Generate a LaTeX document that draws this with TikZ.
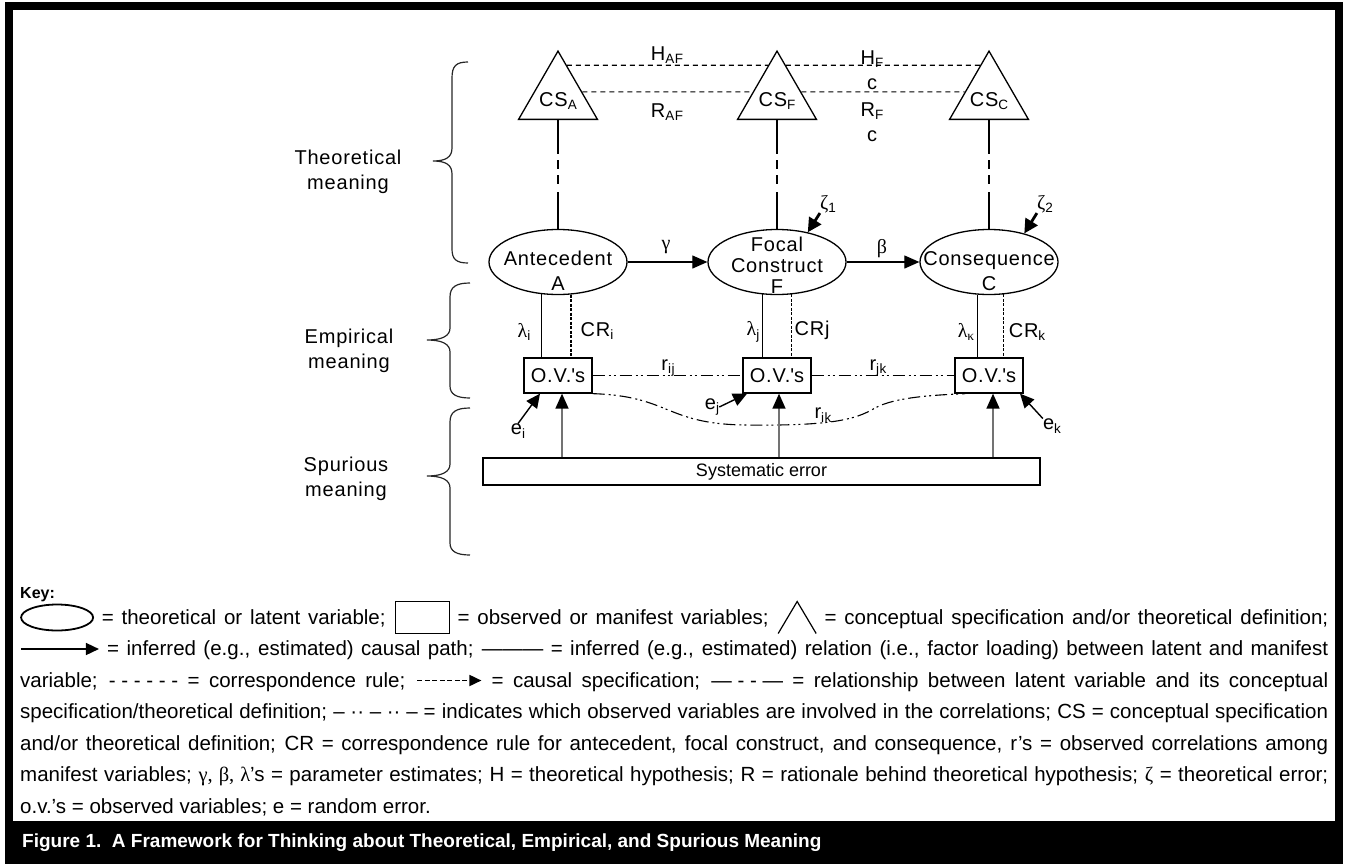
\documentclass[tikz,border=0pt]{standalone}
\usepackage{fontspec}
\setmainfont{Liberation Sans}
\newfontfamily\lblfont[LetterSpace=4]{Liberation Sans}
\newfontfamily\grk{Liberation Serif}
\usetikzlibrary{arrows.meta,shapes.geometric,calc}

% small lowered index used in the diagram labels
\newcommand\sbs[1]{\raisebox{-0.35ex}{\fontsize{13.5}{13.5}\selectfont #1}}
% inline symbols of the key
\newcommand\kEll{\tikz[baseline=-6.5pt]\draw[line width=1.8pt] (0,0) ellipse (36pt and 13pt);}
\newcommand\kBox{\tikz[baseline=-6.5pt]\draw[line width=1.2pt] (-27pt,-16pt) rectangle (27pt,16pt);}
\newcommand\kTri{\tikz[baseline=-6.5pt]\draw[line width=1.2pt] (-19pt,-16pt) -- (0pt,16pt) -- (19pt,-16pt);}
\newcommand\kArrow{\tikz[baseline=-6.5pt]\draw[line width=1.5pt,-{Triangle[length=13pt,width=12pt]}] (0pt,0pt) -- (78pt,0pt);}
\newcommand\kDashArrow{\tikz[baseline=-6.5pt]\draw[line width=1.8pt,dash pattern=on 5pt off 2.5pt,-{Triangle[length=12pt,width=11pt]}] (0pt,0pt) -- (64pt,0pt);}

\begin{document}
\begin{tikzpicture}[x=1pt,y=-1pt,
  lbl/.style={font=\lblfont\fontsize{20}{25}\selectfont, inner sep=0pt, align=center},
  latent/.style={ellipse, draw, line width=1.3pt, minimum width=138pt, minimum height=65pt, inner sep=0pt},
  obs/.style={rectangle, draw, line width=1.3pt, minimum width=68pt, minimum height=35pt, inner sep=0pt,
              font=\lblfont\fontsize{20}{25}\selectfont},
  concept/.style={regular polygon, regular polygon sides=3, draw, line width=1.3pt, minimum size=91pt, inner sep=0pt},
  hdash/.style={line width=1.2pt, dash pattern=on 5pt off 4pt},
  linkcs/.style={line width=1.3pt, dash pattern=on 34pt off 6pt on 9pt off 6pt on 9pt off 8pt on 80pt},
  loading/.style={line width=1.4pt},
  corr/.style={line width=1.8pt, dash pattern=on 3pt off 1.5pt},
  ddot/.style={line width=1.1pt, dash pattern=on 12pt off 4pt on 2pt off 3pt on 2pt off 4pt},
  arr/.style={line width=1.1pt, -{Triangle[length=15pt,width=13pt]}},
  earr/.style={line width=1.4pt, -{Triangle[length=14pt,width=13pt]}},
  zarr/.style={line width=2.8pt, -{Triangle[length=14pt,width=14pt]}},
  sarr/.style={line width=1.5pt, draw=black!55, -{Triangle[length=15pt,width=13pt,black]}},
  brace/.style={line width=1.2pt, black!85},
  keyl/.style={anchor=base west, inner sep=0pt, font=\fontsize{20.5}{20.5}\selectfont},
]
\useasboundingbox (0,0) rectangle (1348,867);

% frame and caption bar
\draw[line width=8pt] (9,840) |- (1339,6) -- (1339,840);
\fill (5,821) rectangle (1343,864);

% conceptual specifications
\node[concept] (csA) at (558,96.6) {};
\node[concept] (csF) at (777,96.6) {};
\node[concept] (csC) at (989,96.6) {};
\node[lbl] (csAt) at (558,101) {CS\sbs{A}};
\node[lbl] (csFt) at (777,101) {CS\sbs{F}};
\node[lbl] (csCt) at (989,101) {CS\sbs{C}};

% hypotheses and rationales
\draw[hdash] (csA.74) -- (csF.106);
\draw[hdash] (csF.74) -- (csC.106);
\draw[hdash] (csA.11) -- (csF.169);
\draw[hdash] (csF.11) -- (csC.169);
\node[lbl] (hAF) at (667,55) {H\sbs{AF}};
\node[lbl] (rAF) at (667,112) {R\sbs{AF}};
\node[lbl] (hFC) at (872,70) {H\sbs{F}\\c};
\node[lbl] (rFC) at (872,122) {R\sbs{F}\\c};

% latent variables
\node[latent] (antA) at (558,262) {};
\node[latent] (focF) at (777,262) {};
\node[latent] (conC) at (989,262) {};
\node[lbl] (antAt) at (558,271) {Antecedent\\A};
\node[lbl, font=\lblfont\fontsize{20}{21}\selectfont] (focFt) at (777,265) {Focal\\Construct\\F};
\node[lbl] (conCt) at (989,271) {Consequence\\C};

% links to the conceptual specifications
\draw[linkcs] (csA.270) -- (antA.north);
\draw[linkcs] (csF.270) -- (focF.north);
\draw[linkcs] (csC.270) -- (conC.north);

% structural paths
\draw[arr] (antA.east) -- (focF.west);
\draw[arr] (focF.east) -- (conC.west);
\node[lbl] (gam) at (666,247) {\grk γ};
\node[lbl] (bet) at (882,249) {\grk β};

% theoretical errors
\node[lbl] (z1) at (828,204) {{\grk ζ}\sbs{1}};
\node[lbl] (z2) at (1045,204) {{\grk ζ}\sbs{2}};
\draw[zarr] (z1.south west) -- (focF.44);
\draw[zarr] (z2.south west) -- (conC.39);

% observed variables
\node[obs] (ovA) at (558,375.5) {O.V.\textquotesingle s};
\node[obs] (ovF) at (777,375.5) {O.V.\textquotesingle s};
\node[obs] (ovC) at (989,375.5) {O.V.\textquotesingle s};

% loadings and correspondence rules
\draw[loading] (antA.243) -- (antA.243 |- ovA.north);
\draw[corr] (antA.292) -- (antA.292 |- ovA.north);
\draw[loading] (focF.246) -- (focF.246 |- ovF.north);
\draw[corr] (focF.294) -- (focF.294 |- ovF.north);
\draw[loading] (conC.251) -- (conC.251 |- ovC.north);
\draw[corr] (conC.294) -- (conC.294 |- ovC.north);
\node[lbl] (lamA) at (524,332) {{\grk λ}\sbs{i}};
\node[lbl] (crA) at (597,331) {CR\sbs{i}};
\node[lbl] (lamF) at (753,332) {{\grk λ}\sbs{j}};
\node[lbl] (crF) at (812,330) {CRj};
\node[lbl] (lamC) at (966,332) {{\grk λ}\sbs{\grk κ}};
\node[lbl] (crC) at (1027,332) {CR\sbs{k}};

% observed correlations
\draw[ddot] (ovA.east) -- (ovF.west);
\draw[ddot] (ovF.east) -- (ovC.west);
\draw[ddot] (ovA.south east) .. controls (670,396) and (665,424) .. (745,425)
  .. controls (830,426) and (855,420) .. (875,408)
  .. controls (895,397) and (935,395) .. ([xshift=11pt]ovC.south west);
\node[lbl] (rij) at (668,368) {r\sbs{ij}};
\node[lbl] (rjk) at (878,368) {r\sbs{jk}};
\node[lbl] (rik) at (823,415) {r\sbs{ik}};

% random errors
\node[lbl] (ei) at (518,431) {e\sbs{i}};
\node[lbl] (ej) at (712,407) {e\sbs{j}};
\node[lbl] (ek) at (1052,426) {e\sbs{k}};
\draw[earr] (ei.north) -- ([xshift=-18pt]ovA.south);
\draw[earr] (ej.east) -- ([xshift=-30pt]ovF.south);
\draw[earr] (ek.north west) -- ([xshift=31pt]ovC.south);

% systematic error
\node[obs, minimum width=557pt, minimum height=27pt, font=\fontsize{18}{18}\selectfont] (sys) at (761.5,471.5) {Systematic error};
\draw[sarr] ([xshift=4pt]ovA.south |- sys.north) -- ([xshift=4pt]ovA.south);
\draw[sarr] ([xshift=2pt]ovF.south |- sys.north) -- ([xshift=2pt]ovF.south);
\draw[sarr] ([xshift=4pt]ovC.south |- sys.north) -- ([xshift=4pt]ovC.south);

% kinds of meaning
\node[lbl] (mTheo) at (348,172) {Theoretical\\meaning};
\node[lbl] (mEmp) at (349,351) {Empirical\\meaning};
\node[lbl] (mSpur) at (346,479) {Spurious\\meaning};
\draw[brace] (468,62) .. controls (456,62) and (452,66) .. (452,78) -- (452,148)
  .. controls (452,157) and (446,161) .. (433,161) .. controls (446,161) and (452,165) .. (452,174)
  -- (452,249) .. controls (452,259) and (456,263) .. (468,263);
\draw[brace] (470,283) .. controls (456,283) and (450,287) .. (450,297) -- (450,328)
  .. controls (450,336) and (442,340) .. (427,340) .. controls (442,340) and (450,344) .. (450,352)
  -- (450,386) .. controls (450,394) and (456,398) .. (470,398);
\draw[brace] (470,408) .. controls (456,408) and (450,412) .. (450,422) -- (450,464)
  .. controls (450,472) and (442,476) .. (427,476) .. controls (442,476) and (450,480) .. (450,488)
  -- (450,543) .. controls (450,551) and (456,555) .. (470,555);

% key
\node[anchor=base west, inner sep=0pt, font=\bfseries\fontsize{16}{16}\selectfont] (key) at (20,598) {Key:};
\node[keyl] (k1) at (20,624) {\makebox[1308pt][s]{\kEll{} = theoretical or latent variable; \kBox{} = observed or manifest variables; \kTri{} = conceptual specification and/or theoretical definition;}};
\node[keyl] (k2) at (20,655.5) {\makebox[1308pt][s]{\kArrow{} = inferred (e.g., estimated) causal path; ——— = inferred (e.g., estimated) relation (i.e., factor loading) between latent and manifest}};
\node[keyl] (k3) at (20,687) {\makebox[1308pt][s]{variable; \mbox{- - - - - -} = correspondence rule; \kDashArrow{} = causal specification; \mbox{— - - —} = relationship between latent variable and its conceptual}};
\node[keyl] (k4) at (20,718.5) {\makebox[1308pt][s]{specification/theoretical definition; \mbox{– ·· – ·· –} = indicates which observed variables are involved in the correlations; CS = conceptual specification}};
\node[keyl] (k5) at (20,750) {\makebox[1308pt][s]{and/or theoretical definition; CR = correspondence rule for antecedent, focal construct, and consequence, r’s = observed correlations among}};
\node[keyl] (k6) at (20,781.5) {\makebox[1308pt][s]{manifest variables; {\grk γ, β, λ}’s = parameter estimates; H = theoretical hypothesis; R = rationale behind theoretical hypothesis; {\grk ζ} = theoretical error;}};
\node[keyl] (k7) at (20,813) {o.v.’s = observed variables; e = random error.};

% caption
\node[anchor=west, inner sep=0pt, text=white, font=\bfseries\fontsize{19}{19}\selectfont] (cap) at (22,843) {Figure 1.\ \ A Framework for Thinking about Theoretical, Empirical, and Spurious Meaning};
\end{tikzpicture}
\end{document}
